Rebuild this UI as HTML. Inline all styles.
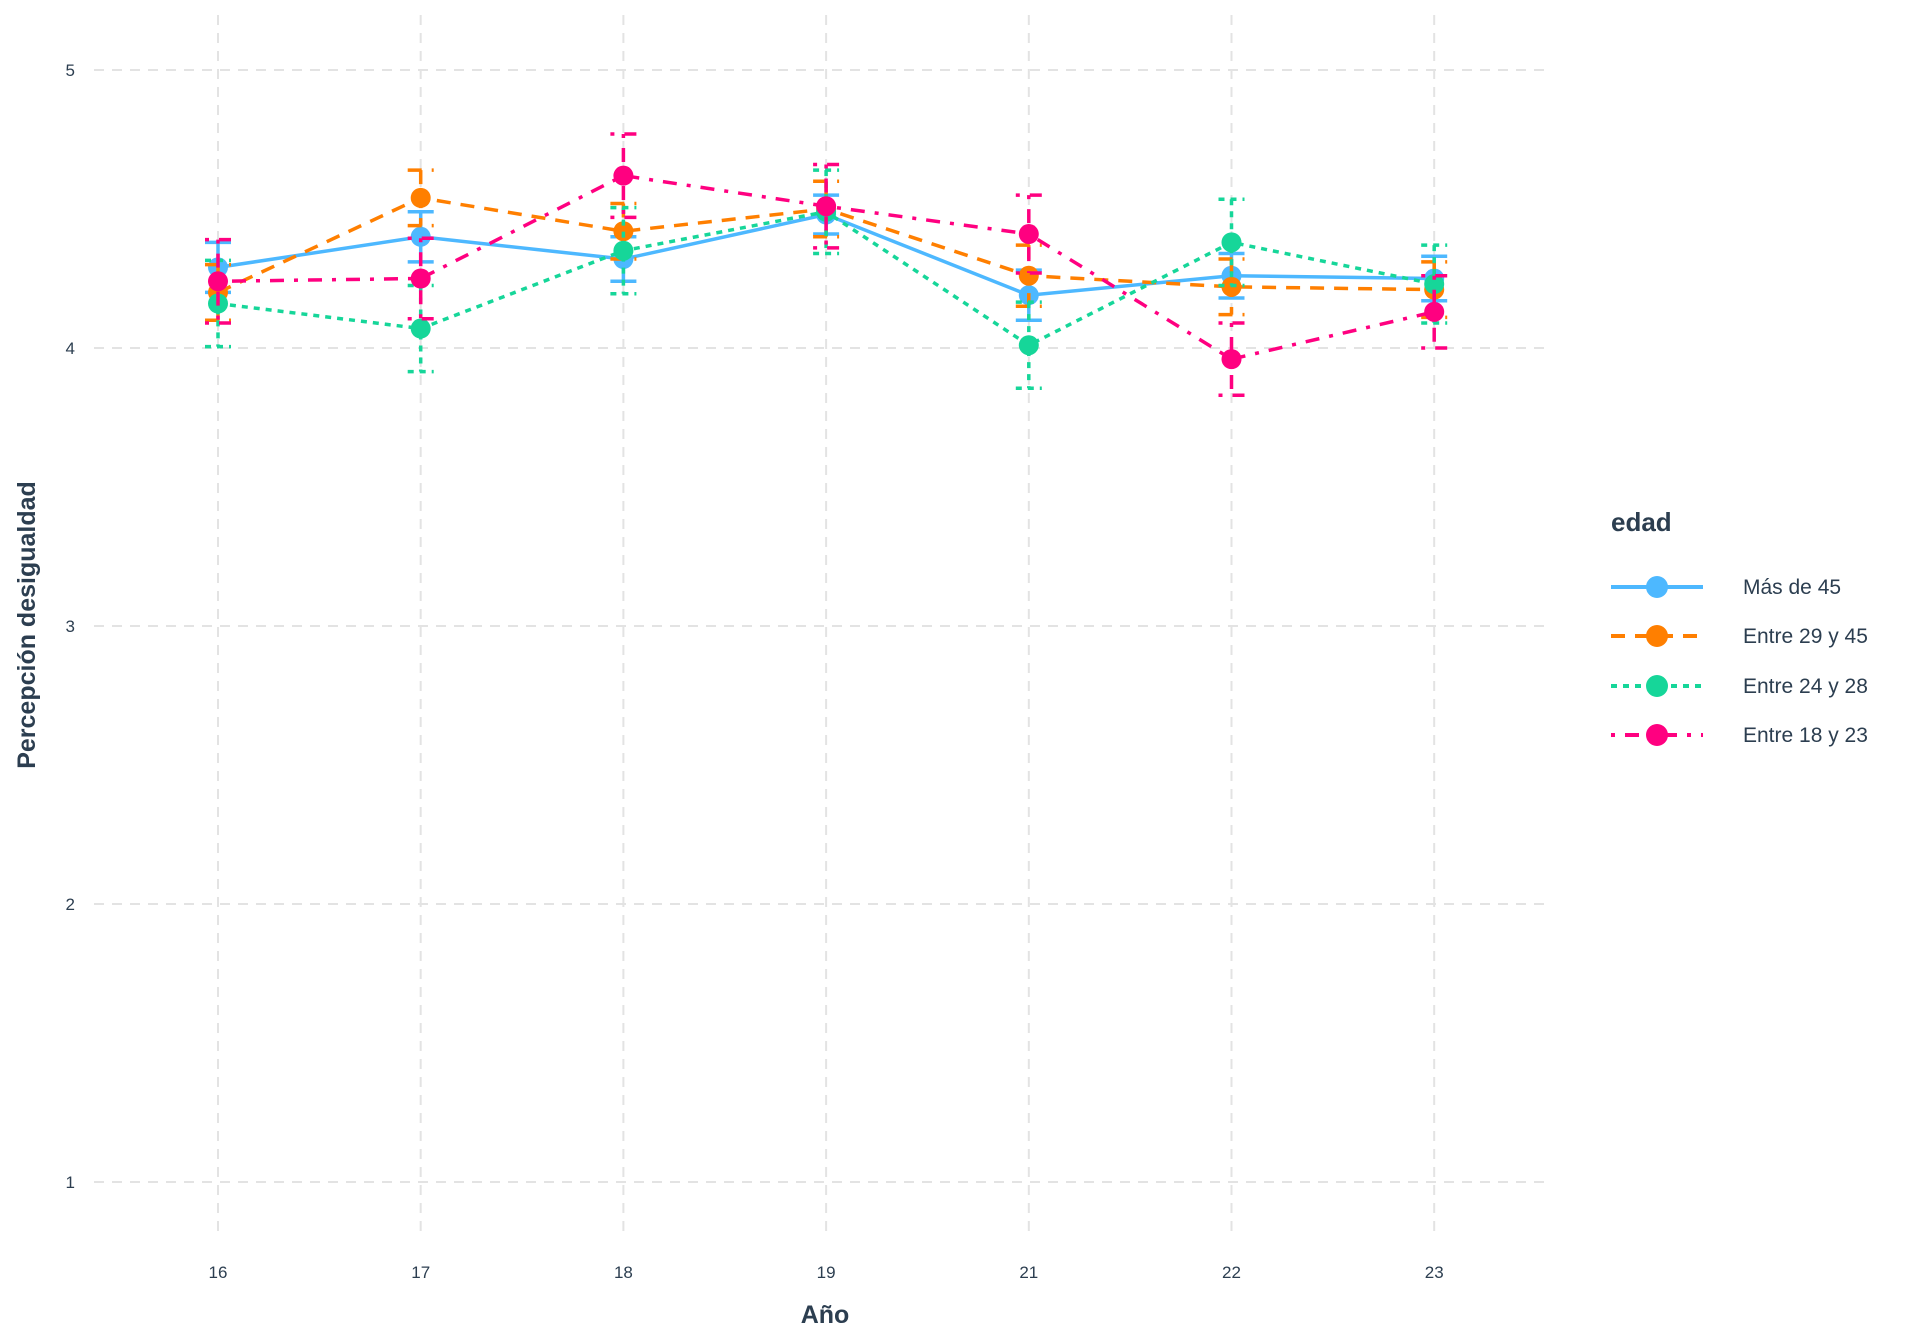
<!DOCTYPE html>
<html><head><meta charset="utf-8"><style>
html,body{margin:0;padding:0;background:#fff;}
svg{display:block;font-family:"Liberation Sans",Arial,sans-serif;}
</style></head><body>
<svg id="chart" width="1920" height="1344" viewBox="0 0 1920 1344" xmlns="http://www.w3.org/2000/svg">
<g id="grid"></g>
<g id="axes"></g>
<g id="series"></g>
<text x="825" y="1323" text-anchor="middle" font-size="25" font-weight="bold" fill="#2c3e50">Año</text>
<text transform="translate(35,625) rotate(-90)" text-anchor="middle" font-size="25" font-weight="bold" fill="#2c3e50">Percepción desigualdad</text>
<g id="legend">
<text x="1611" y="531" font-size="26" font-weight="bold" fill="#2c3e50">edad</text>
</g>
</svg>
<script>
const categories = ["16","17","18","19","21","22","23"];
const yTicks = [1,2,3,4,5];
const seriesNames = ["Más de 45","Entre 29 y 45","Entre 24 y 28","Entre 18 y 23"];
const masDe45 = [4.29,4.40,4.32,4.48,4.19,4.26,4.25];
const masDe45Err = [0.09,0.09,0.08,0.07,0.09,0.08,0.08];
const entre29y45 = [4.20,4.54,4.42,4.50,4.26,4.22,4.21];
const entre29y45Err = [0.10,0.10,0.10,0.10,0.11,0.10,0.10];
const entre24y28 = [4.16,4.07,4.35,4.49,4.01,4.38,4.23];
const entre24y28Err = [0.155,0.155,0.155,0.15,0.155,0.155,0.14];
const entre18y23 = [4.24,4.25,4.62,4.51,4.41,3.96,4.13];
const entre18y23Err = [0.15,0.145,0.15,0.15,0.14,0.13,0.13];

const NS="http://www.w3.org/2000/svg";
const X0=218, XSTEP=202.7, Y5=70, Y1=1182;
function xs(i){return X0+i*XSTEP;}
function ys(v){return Y1-(v-1)*(Y1-Y5)/4;}
function mk(tag,attrs,parent){const e=document.createElementNS(NS,tag);for(const k in attrs)e.setAttribute(k,attrs[k]);parent.appendChild(e);return e;}

const grid=document.getElementById('grid');
yTicks.forEach(t=>{
  const l=mk('line',{x1:94,x2:1550,y1:ys(t),y2:ys(t),stroke:'#e3e3e3','stroke-width':2,'stroke-dasharray':'10,8'},grid);
  
  
});
categories.forEach((c,i)=>{
  const l=mk('line',{x1:xs(i),x2:xs(i),y1:15,y2:1237,stroke:'#e3e3e3','stroke-width':2,'stroke-dasharray':'10,8'},grid);
  
  
});
const axes=document.getElementById('axes');
yTicks.forEach(t=>{
  const tx=mk('text',{x:75,y:ys(t)+6,'text-anchor':'end','font-size':17,fill:'#2c3e50'},axes);
  tx.textContent=t;
  
  
});
categories.forEach((c,i)=>{
  const tx=mk('text',{x:xs(i),y:1278,'text-anchor':'middle','font-size':17,fill:'#2c3e50'},axes);
  tx.textContent=c;
  
  
});

const colors=['#4db8ff','#ff7f00','#16d699','#ff0080'];
const dashes=['none','14,10','6,6','4,10,14,10'];
const vals=[masDe45,entre29y45,entre24y28,entre18y23];
const errs=[masDe45Err,entre29y45Err,entre24y28Err,entre18y23Err];
const sg=document.getElementById('series');
vals.forEach((arr,s)=>{
  const g=mk('g',{},sg);
  
  
  arr.forEach((v,i)=>{
    const lo=ys(v-errs[s][i]), hi=ys(v+errs[s][i]), x=xs(i);
    const eb=mk('path',{d:`M${x-13},${hi}H${x+13}M${x},${hi}V${lo}M${x-13},${lo}H${x+13}`,fill:'none',stroke:colors[s],'stroke-width':3.5,'stroke-dasharray':dashes[s]},g);
    
    
  });
  const pts=arr.map((v,i)=>xs(i)+','+ys(v)).join(' ');
  const pl=mk('polyline',{points:pts,fill:'none',stroke:colors[s],'stroke-width':3.5,'stroke-dasharray':dashes[s]},g);
  
  
  arr.forEach((v,i)=>{
    const c=mk('circle',{cx:xs(i),cy:ys(v),r:10,fill:colors[s]},g);
    
    
  });
});
const lg=document.getElementById('legend');
const rowY=[587,636,686,735];
seriesNames.forEach((n,s)=>{
  const g=mk('g',{},lg);
  
  
  mk('line',{x1:1611,x2:1703,y1:rowY[s],y2:rowY[s],stroke:colors[s],'stroke-width':4,'stroke-dasharray':dashes[s]},g);
  mk('circle',{cx:1657,cy:rowY[s],r:11,fill:colors[s]},g);
  const t=mk('text',{x:1743,y:rowY[s]+7,'font-size':21,fill:'#2c3e50'},g);
  t.textContent=n;
});
</script>
</body></html>
